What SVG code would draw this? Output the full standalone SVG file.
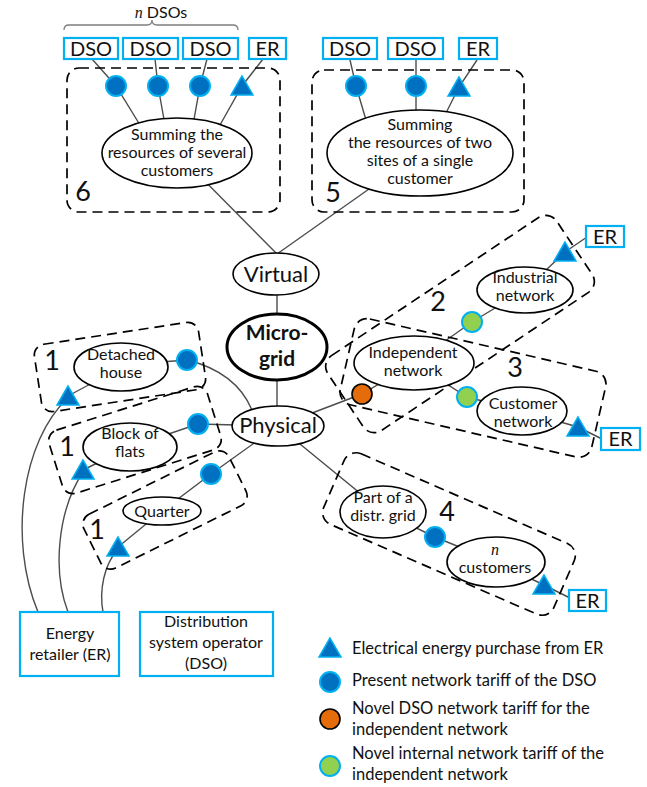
<svg xmlns="http://www.w3.org/2000/svg" width="647" height="787" viewBox="0 0 647 787">
<defs>
<style>
text{font-family:Lato,"Liberation Sans",sans-serif;fill:#111;text-anchor:middle}
.t{font-size:16px}
.big{font-size:22px}
.bx{font-size:20px}
.num{font-size:27px}
.lg{font-size:16.5px;text-anchor:start}
.ell{fill:#fff;stroke:#000;stroke-width:1.6}
.box{fill:#fff;stroke:#00B0F0;stroke-width:2.2}
.dash{fill:none;stroke:#000;stroke-width:1.7;stroke-dasharray:10 6}
.ln{fill:none;stroke:#4d4d4d;stroke-width:1.4}
.dso{fill:#0070C0;stroke:#00B0F0;stroke-width:2}
.er{fill:#0070C0;stroke:#00B0F0;stroke-width:1.5}
.nov{fill:#E46C0A;stroke:#000;stroke-width:1.6}
.int{fill:#92D050;stroke:#00B0F0;stroke-width:2}
</style>
<polygon id="tri" points="0,-11 -11,8 11,8"/>
</defs>
<rect width="647" height="787" fill="#fff"/>

<g id="connectors">
<line class="ln" x1="177" y1="153" x2="277" y2="254"/>
<line class="ln" x1="420" y1="153" x2="277" y2="254"/>
<line class="ln" x1="277" y1="274" x2="277" y2="347"/>
<line class="ln" x1="277" y1="347" x2="277" y2="426"/>
<polyline class="ln" points="92,59 116,86 140,125"/>
<polyline class="ln" points="155,59 158,86 165,125"/>
<polyline class="ln" points="207,59 200,86 193,125"/>
<polyline class="ln" points="263,59 242,86 220,125"/>
<polyline class="ln" points="350,60 356,86 366,120"/>
<polyline class="ln" points="416,60 416,86 416,115"/>
<polyline class="ln" points="477,60 459,87 445,115"/>
<polyline class="ln" points="122,365 187,360"/>
<path class="ln" d="M187,360 Q236,372 252,410"/>
<polyline class="ln" points="278,426 198,424 130,447"/>
<polyline class="ln" points="278,426 211,474 162,511"/>
<line class="ln" x1="122" y1="367" x2="68" y2="396"/>
<line class="ln" x1="130" y1="447" x2="83" y2="470"/>
<line class="ln" x1="162" y1="511" x2="118" y2="547"/>
<path class="ln" d="M68,398 C22,440 8,540 38,612"/>
<path class="ln" d="M83,472 C58,510 52,570 68,612"/>
<path class="ln" d="M118,549 C104,565 99,590 103,612"/>
<polyline class="ln" points="278,426 362,394 414,363 472,322 525,290 565,252 587,237"/>
<polyline class="ln" points="414,363 467,397 522,411 578,427 602,439"/>
<polyline class="ln" points="278,426 383,512 435,537 496,562 544,585 570,598"/>
</g>

<g id="dashed-groups">
<rect class="dash" x="67" y="68" width="213" height="144" rx="12"/>
<rect class="dash" x="312" y="70" width="212" height="142" rx="12"/>
<rect class="dash" x="-83" y="-34" width="166" height="68" rx="11" transform="translate(120,367) rotate(-8.7)"/>
<rect class="dash" x="-83" y="-33" width="166" height="66" rx="11" transform="translate(135,440) rotate(-17.5)"/>
<rect class="dash" x="-81" y="-30" width="162" height="60" rx="11" transform="translate(165,510) rotate(-26.4)"/>
<rect class="dash" x="-137.5" y="-45" width="275" height="90" rx="13" transform="translate(460,324) rotate(-33.7)"/>
<rect class="dash" x="-129" y="-44" width="258" height="88" rx="13" transform="translate(473,388) rotate(13)"/>
<rect class="dash" x="-125.5" y="-38.5" width="251" height="77" rx="13" transform="translate(449,534) rotate(23.5)"/>
</g>

<g id="brace">
<path d="M64,30 Q64,25 69,25 L147,25 Q152,25 152,20 Q152,25 157,25 L233,25 Q238,25 238,30" fill="none" stroke="#7f7f7f" stroke-width="1.3"/>
<text x="161" y="18" style="font-size:16px"><tspan font-family="Liberation Serif,serif" font-style="italic">n</tspan> DSOs</text>
</g>

<g id="top-boxes">
<rect class="box" x="64" y="38" width="54" height="21"/><text class="bx" x="91" y="56">DSO</text>
<rect class="box" x="123" y="38" width="55" height="21"/><text class="bx" x="150.5" y="56">DSO</text>
<rect class="box" x="183" y="38" width="55" height="21"/><text class="bx" x="210.5" y="56">DSO</text>
<rect class="box" x="249" y="38" width="37" height="21"/><text class="bx" x="267.5" y="56">ER</text>
<rect class="box" x="323" y="38" width="54" height="21"/><text class="bx" x="350" y="56">DSO</text>
<rect class="box" x="388" y="38" width="55" height="21"/><text class="bx" x="415.5" y="56">DSO</text>
<rect class="box" x="459" y="38" width="38" height="21"/><text class="bx" x="478" y="56">ER</text>
</g>

<g id="markers">
<circle class="dso" cx="116" cy="86" r="10"/>
<circle class="dso" cx="158" cy="86" r="10"/>
<circle class="dso" cx="200" cy="86" r="10"/>
<use href="#tri" class="er" x="242" y="87"/>
<circle class="dso" cx="356" cy="86" r="10"/>
<circle class="dso" cx="416" cy="86" r="10"/>
<use href="#tri" class="er" x="459" y="88"/>
<circle class="dso" cx="187" cy="360" r="10"/>
<use href="#tri" class="er" x="68" y="397"/>
<circle class="dso" cx="198" cy="424" r="10"/>
<use href="#tri" class="er" x="83" y="471"/>
<circle class="dso" cx="211" cy="474" r="10"/>
<use href="#tri" class="er" x="118" y="548"/>
<circle class="nov" cx="362" cy="394" r="10"/>
<circle class="int" cx="472" cy="322" r="10"/>
<circle class="int" cx="467" cy="397" r="10"/>
<use href="#tri" class="er" x="565" y="253"/>
<use href="#tri" class="er" x="578" y="428"/>
<circle class="dso" cx="435" cy="537" r="10"/>
<use href="#tri" class="er" x="544" y="586"/>
</g>

<g id="node-6">
<ellipse class="ell" cx="177" cy="153" rx="75" ry="35"/>
<text class="t" x="177" y="140">Summing the</text>
<text class="t" x="177" y="158">resources of several</text>
<text class="t" x="177" y="176">customers</text>
<text class="num" x="83" y="201">6</text>
</g>
<g id="node-5">
<ellipse class="ell" cx="420" cy="153" rx="93" ry="43"/>
<text class="t" x="420" y="130">Summing</text>
<text class="t" x="420" y="148">the resources of two</text>
<text class="t" x="420" y="166">sites of a single</text>
<text class="t" x="420" y="184">customer</text>
<text class="num" x="333" y="202">5</text>
</g>
<g id="node-virtual">
<ellipse class="ell" cx="276" cy="274" rx="43" ry="21"/>
<text class="big" x="276" y="282">Virtual</text>
</g>
<g id="node-microgrid">
<ellipse cx="277" cy="347" rx="50" ry="33" fill="#fff" stroke="#000" stroke-width="3"/>
<text x="277" y="340" style="font-size:21px;font-weight:bold">Micro-</text>
<text x="277" y="366" style="font-size:21px;font-weight:bold">grid</text>
</g>
<g id="node-physical">
<ellipse class="ell" cx="278" cy="426" rx="46" ry="20"/>
<text class="big" x="278" y="433">Physical</text>
</g>
<g id="node-detached">
<ellipse class="ell" cx="121" cy="367" rx="47" ry="24"/>
<text class="t" x="121" y="360">Detached</text>
<text class="t" x="121" y="378">house</text>
<text class="num" x="52" y="370">1</text>
</g>
<g id="node-flats">
<ellipse class="ell" cx="130" cy="447" rx="47" ry="24"/>
<text class="t" x="130" y="439">Block of</text>
<text class="t" x="130" y="457">flats</text>
<text class="num" x="67" y="456">1</text>
</g>
<g id="node-quarter">
<ellipse class="ell" cx="162" cy="511" rx="39" ry="14"/>
<text class="t" x="162" y="517">Quarter</text>
<text class="num" x="97" y="539">1</text>
</g>
<g id="node-independent">
<ellipse class="ell" cx="414" cy="363" rx="60" ry="27"/>
<text class="t" x="413" y="358">Independent</text>
<text class="t" x="413" y="376">network</text>
</g>
<g id="node-industrial">
<ellipse class="ell" cx="525" cy="290" rx="48" ry="23"/>
<text class="t" x="525" y="283">Industrial</text>
<text class="t" x="525" y="301">network</text>
<text class="num" x="438" y="311">2</text>
</g>
<g id="node-customer">
<ellipse class="ell" cx="522" cy="411" rx="45" ry="24"/>
<text class="t" x="523" y="409">Customer</text>
<text class="t" x="523" y="427">network</text>
<text class="num" x="515" y="377">3</text>
</g>
<g id="node-part-grid">
<ellipse class="ell" cx="383" cy="512" rx="43" ry="26"/>
<text class="t" x="383" y="503">Part of a</text>
<text class="t" x="383" y="521">distr. grid</text>
<text class="num" x="447" y="521">4</text>
</g>
<g id="node-n-customers">
<ellipse class="ell" cx="496" cy="562" rx="49" ry="25"/>
<text x="495" y="555" style="font-size:16px;font-family:'Liberation Serif',serif;font-style:italic">n</text>
<text class="t" x="495" y="573">customers</text>
</g>
<g id="er-boxes">
<rect class="box" x="586" y="226" width="38" height="21"/><text class="bx" x="605" y="244">ER</text>
<rect class="box" x="601" y="428" width="39" height="22"/><text class="bx" x="620.5" y="446">ER</text>
<rect class="box" x="569" y="590" width="37" height="21"/><text class="bx" x="587.5" y="608">ER</text>
</g>
<g id="node-energy-retailer">
<rect class="box" x="20" y="612" width="99" height="64"/>
<text class="t" x="70" y="639">Energy</text>
<text class="t" x="70" y="660">retailer (ER)</text>
</g>
<g id="node-dso">
<rect class="box" x="140" y="612" width="133" height="64"/>
<text class="t" x="206" y="627">Distribution</text>
<text class="t" x="206" y="648">system operator</text>
<text class="t" x="206" y="669">(DSO)</text>
</g>
<g id="legend">
<use href="#tri" class="er" x="330" y="649"/>
<text class="lg" x="352" y="654">Electrical energy purchase from ER</text>
<circle class="dso" cx="330" cy="682" r="10"/>
<text class="lg" x="352" y="686">Present network tariff of the DSO</text>
<circle class="nov" cx="330" cy="719" r="10"/>
<text class="lg" x="352" y="714">Novel DSO network tariff for the</text>
<text class="lg" x="352" y="735">independent network</text>
<circle class="int" cx="330" cy="766" r="10"/>
<text class="lg" x="352" y="759">Novel internal network tariff of the</text>
<text class="lg" x="352" y="780">independent network</text>
</g>
</svg>
